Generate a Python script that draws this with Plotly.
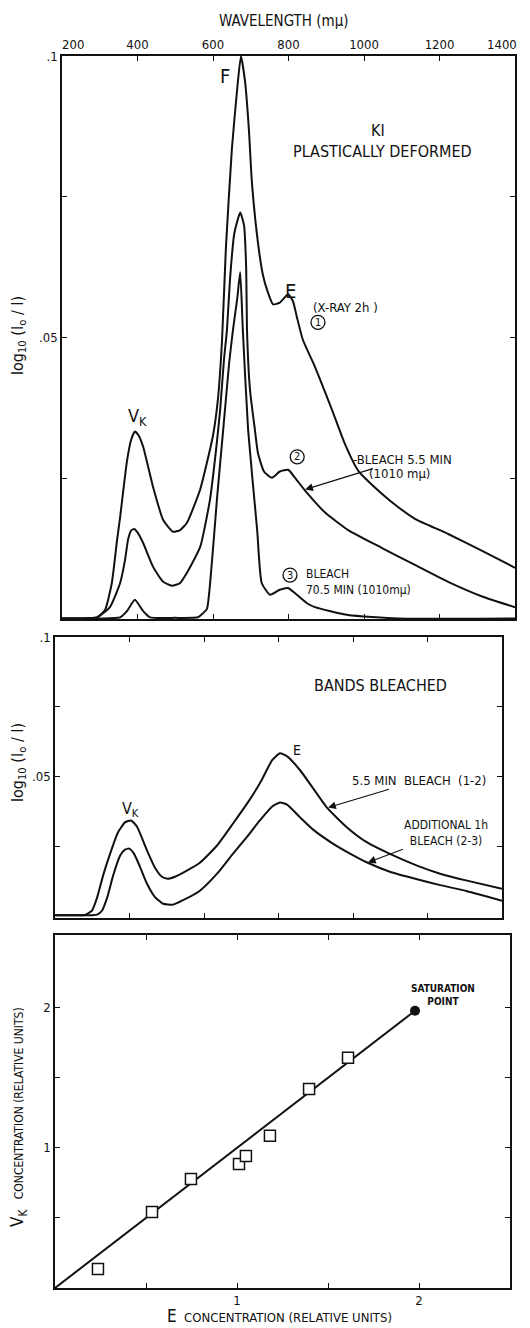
import plotly.graph_objects as go

# ---------------- data ----------------
# Top panel: KI plastically deformed, absorption spectra (wavelength in m\u03bc, log10(Io/I))
wl_xray = [200, 250, 293, 314, 332, 346, 354, 372, 383, 393, 403, 415, 441, 468, 494, 513, 531, 566,
           600, 613, 624, 634, 650, 664, 674, 685, 695, 703, 719, 732, 743, 759, 777, 799, 812, 822,
           838, 870, 915, 950, 984, 1048, 1090, 1135, 1223, 1313, 1400]
od_xray = [0.0001, 0.0001, 0.0003, 0.0016, 0.0064, 0.0141, 0.0181, 0.0280, 0.0318, 0.0333, 0.0326,
           0.0306, 0.0235, 0.0176, 0.0155, 0.0158, 0.0171, 0.0230, 0.0326, 0.0390, 0.0496, 0.0657,
           0.0835, 0.0941, 0.1000, 0.0954, 0.0870, 0.0776, 0.0669, 0.0612, 0.0585, 0.0559, 0.0562,
           0.0577, 0.0564, 0.0537, 0.0496, 0.0448, 0.0372, 0.0310, 0.0264, 0.0222, 0.0199, 0.0178,
           0.0151, 0.0121, 0.0091]

wl_bleach1 = [200, 250, 293, 327, 354, 367, 375, 383, 391, 401, 415, 441, 468, 491, 513, 531, 566, 592,
              608, 619, 629, 637, 645, 656, 672, 682, 688, 690, 698, 711, 719, 735, 756, 777, 799,
              817, 844, 897, 958, 1048, 1135, 1223, 1313, 1400]
od_bleach1 = [0.0001, 0.0001, 0.0003, 0.0021, 0.0064, 0.0105, 0.0141, 0.0157, 0.0160, 0.0153, 0.0135,
              0.0093, 0.0066, 0.0059, 0.0064, 0.0082, 0.0128, 0.0212, 0.0300, 0.0372, 0.0460, 0.0514,
              0.0603, 0.0683, 0.0722, 0.0700, 0.0620, 0.0514, 0.0407, 0.0336, 0.0295, 0.0262, 0.0251,
              0.0262, 0.0265, 0.0251, 0.0228, 0.0189, 0.0158, 0.0126, 0.0096, 0.0066, 0.0040, 0.0021]

wl_bleach2 = [200, 300, 354, 372, 393, 415, 433, 500, 560, 573, 584, 597, 611, 627, 643, 653, 664, 672,
              679, 693, 717, 729, 751, 777, 799, 822, 849, 870, 958, 1090, 1400]
od_bleach2 = [0.0001, 0.0001, 0.0003, 0.0014, 0.0034, 0.0014, 0.0003, 0.0002, 0.0003, 0.0010, 0.0018,
              0.0100, 0.0217, 0.0336, 0.0456, 0.0514, 0.0568, 0.0616, 0.0514, 0.0336, 0.0158, 0.0064,
              0.0043, 0.0052, 0.0055, 0.0043, 0.0028, 0.0021, 0.0007, 0.0001, 0.0001]

# Middle panel: bands bleached (difference spectra)
wl_diff12 = [200, 250, 280, 299, 313, 329, 348, 369, 388, 404, 420, 447, 468, 487, 503, 522, 554, 589,
             635, 678, 716, 750, 783, 804, 823, 858, 893, 930, 984, 1038, 1099, 1172, 1234, 1306, 1400]
od_diff12 = [0.0002, 0.0002, 0.0003, 0.0018, 0.0065, 0.0144, 0.0223, 0.0299, 0.0335, 0.0342, 0.0320,
             0.0234, 0.0173, 0.0140, 0.0133, 0.0140, 0.0162, 0.0190, 0.0252, 0.0331, 0.0403, 0.0475,
             0.0558, 0.0583, 0.0572, 0.0522, 0.0457, 0.0388, 0.0317, 0.0263, 0.0222, 0.0180, 0.0151,
             0.0126, 0.0097]

wl_diff23 = [200, 250, 300, 313, 326, 340, 356, 375, 388, 399, 412, 428, 447, 468, 490, 517, 541, 589,
             635, 678, 716, 750, 783, 804, 823, 858, 893, 946, 992, 1038, 1099, 1172, 1234, 1306, 1400]
od_diff23 = [0.0002, 0.0002, 0.0002, 0.0004, 0.0018, 0.0065, 0.0144, 0.0216, 0.0237, 0.0241, 0.0223,
             0.0176, 0.0115, 0.0068, 0.0043, 0.0040, 0.0054, 0.0090, 0.0151, 0.0223, 0.0284, 0.0342,
             0.0392, 0.0406, 0.0399, 0.0353, 0.0309, 0.0259, 0.0223, 0.0191, 0.0158, 0.0131, 0.0110,
             0.0088, 0.0054]

# Bottom panel: V_K vs E concentration
e_conc = [0.236, 0.533, 0.747, 1.011, 1.049, 1.181, 1.396, 1.610]
vk_conc = [0.136, 0.543, 0.779, 0.886, 0.943, 1.086, 1.421, 1.643]
sat_e = [1.978]
sat_vk = [1.979]
fit_e = [0.0, 1.978]
fit_vk = [0.0, 1.979]

wl_ticks = [400, 600, 800, 1000, 1200]
wl_edges = [200, 1400]
od_ticks = [0.05, 0.1]
od_ticktext = [".05", ".1"]
od_minor = [0.025, 0.075]
conc_ticks = [1, 2]
conc_ticktext = ["1", "2"]
conc_minor = [0.5, 1.5]

# ---------------- figure ----------------
W, H = 530, 1328
FONT = "Liberation Sans Narrow, DejaVu Sans Condensed, Roboto, DejaVu Sans, sans-serif"
INK = "#111111"


def px(x):
    return x / W


def py(y):
    return 1 - y / H


fig = go.Figure()

curve = dict(color=INK, width=2, shape="spline", smoothing=0.5)
fig.add_trace(go.Scatter(x=wl_xray, y=od_xray, mode="lines", line=curve, xaxis="x", yaxis="y"))
fig.add_trace(go.Scatter(x=wl_bleach1, y=od_bleach1, mode="lines", line=curve, xaxis="x", yaxis="y"))
fig.add_trace(go.Scatter(x=wl_bleach2, y=od_bleach2, mode="lines", line=curve, xaxis="x", yaxis="y"))

fig.add_trace(go.Scatter(x=wl_diff12, y=od_diff12, mode="lines", line=curve, xaxis="x2", yaxis="y2"))
fig.add_trace(go.Scatter(x=wl_diff23, y=od_diff23, mode="lines", line=curve, xaxis="x2", yaxis="y2"))

fig.add_trace(go.Scatter(x=fit_e, y=fit_vk, mode="lines", line=dict(color=INK, width=2),
                         xaxis="x3", yaxis="y3"))
fig.add_trace(go.Scatter(x=e_conc, y=vk_conc, mode="markers",
                         marker=dict(symbol="square", size=11, color="white",
                                     line=dict(color=INK, width=1.5)),
                         xaxis="x3", yaxis="y3"))
fig.add_trace(go.Scatter(x=sat_e, y=sat_vk, mode="markers",
                         marker=dict(symbol="circle", size=10, color=INK),
                         xaxis="x3", yaxis="y3"))

frame = dict(showline=True, linecolor=INK, linewidth=1.5, mirror="ticks", ticks="inside",
             ticklen=5, tickwidth=1.2, tickcolor=INK, showgrid=False, zeroline=False,
             automargin=False, tickfont=dict(family=FONT, size=13, color=INK))
minor_ticks = dict(ticks="inside", ticklen=5, tickwidth=1.2, tickcolor=INK, showgrid=False)

fig.update_layout(
    width=W, height=H, margin=dict(l=0, r=0, t=0, b=0, pad=0, autoexpand=False),
    paper_bgcolor="white", plot_bgcolor="white", showlegend=False,
    font=dict(family=FONT, color=INK),
    xaxis=dict(frame, domain=[px(62), px(515)], range=[200, 1400], side="top",
               tickvals=wl_ticks, minor=dict(minor_ticks, tickvals=wl_edges), anchor="y"),
    yaxis=dict(frame, domain=[py(619), py(56)], range=[0, 0.1], tickvals=od_ticks,
               ticktext=od_ticktext, minor=dict(minor_ticks, tickvals=od_minor), anchor="x"),
    xaxis2=dict(frame, domain=[px(55), px(502)], range=[200, 1400], tickvals=wl_ticks,
                showticklabels=False, anchor="y2"),
    yaxis2=dict(frame, domain=[py(918), py(637)], range=[-0.0008, 0.1], tickvals=od_ticks,
                ticktext=od_ticktext, minor=dict(minor_ticks, tickvals=od_minor), anchor="x2"),
    xaxis3=dict(frame, domain=[px(55), px(510)], range=[0, 2.5], tickvals=conc_ticks,
                ticktext=conc_ticktext, minor=dict(minor_ticks, tickvals=conc_minor), anchor="y3"),
    yaxis3=dict(frame, domain=[py(1288), py(935)], range=[0, 2.52], tickvals=conc_ticks,
                ticktext=conc_ticktext, minor=dict(minor_ticks, tickvals=conc_minor), anchor="x3"),
)

ann = []


def label(text, x, y, ref=None, size=13, xanchor="center", angle=0, align="center"):
    d = dict(text=text, x=x, y=y, showarrow=False, xanchor=xanchor, yanchor="middle",
             textangle=angle, align=align, font=dict(family=FONT, size=size, color=INK))
    if ref is None:
        d.update(xref="paper", yref="paper")
    else:
        d.update(xref="x" + ref, yref="y" + ref)
    ann.append(d)


def pointer(text, head_x, head_y, text_x, text_y, ref, size=12):
    # label with an arrow running from the text to a point on a curve
    ann.append(dict(text=text, x=head_x, y=head_y, ax=text_x, ay=text_y,
                    xref="x" + ref, yref="y" + ref, axref="x" + ref, ayref="y" + ref,
                    showarrow=True, arrowhead=2, arrowsize=1.3, arrowwidth=1.2,
                    arrowcolor=INK, standoff=0, startstandoff=0, align="center",
                    font=dict(family=FONT, size=size, color=INK)))


# wavelength scale: end labels sit just inside the frame
label("200", px(73), py(45), size=13)
label("1400", px(502), py(45), size=13)

# top panel texts
label("WAVELENGTH (m\u03bc)", px(284), py(21), size=15)
label("log<sub>10</sub> (I<sub>o</sub> / I)", px(18), py(336), size=16, angle=-90)
label("F", 632, 0.0964, ref="", size=20)
label("KI", 1037, 0.0867, ref="", size=16)
label("PLASTICALLY DEFORMED", 1048, 0.0831, ref="", size=16)
label("E", 804, 0.0582, ref="", size=20)
label("(X-RAY 2h )", 952, 0.0553, ref="", size=13)
label("V<sub>K</sub>", 401, 0.0358, ref="", size=18)
pointer("-BLEACH 5.5 MIN", 844, 0.0230, 1101, 0.0283, "", size=13)
label("(1010 m\u03bc)", 1008, 0.0259, ref="", size=13, xanchor="left")
label("BLEACH<br>70.5 MIN (1010m\u03bc)", 842, 0.0065, ref="", size=12, xanchor="left", align="left")

# circled curve numbers
circled = [("1", 878, 0.0527), ("2", 823, 0.0288), ("3", 804, 0.0078)]
shapes = []
for num, cx, cy in circled:
    shapes.append(dict(type="circle", xref="x", yref="y", xsizemode="pixel", ysizemode="pixel",
                       xanchor=cx, yanchor=cy, x0=-7, x1=7, y0=-7, y1=7,
                       line=dict(color=INK, width=1.3)))
    label(num, cx, cy, ref="", size=11)

# middle panel texts
label("BANDS BLEACHED", 1073, 0.0827, ref="2", size=16)
label("E", 850, 0.0594, ref="2", size=14)
label("V<sub>K</sub>", 404, 0.0380, ref="2", size=16)
pointer("5.5 MIN  BLEACH  (1-2)", 933, 0.0388, 1177, 0.0486, "2", size=13)
pointer("ADDITIONAL 1h<br>BLEACH (2-3)", 1040, 0.0191, 1250, 0.0298, "2")
label("log<sub>10</sub> (I<sub>o</sub> / I)", px(18), py(763), size=16, angle=-90)

# bottom panel texts
label("<b>SATURATION</b><br><b>POINT</b>", 2.13, 2.095, ref="3", size=10)
label("<span style='font-size:17px'>E</span>  CONCENTRATION (RELATIVE UNITS)",
      px(279), py(1316), size=13)
label("<span style='font-size:17px'>V<sub>K</sub></span>   CONCENTRATION (RELATIVE UNITS)",
      px(18), py(1117), size=12, angle=-90)

fig.update_layout(annotations=ann, shapes=shapes)
fig.write_html("out.html")
